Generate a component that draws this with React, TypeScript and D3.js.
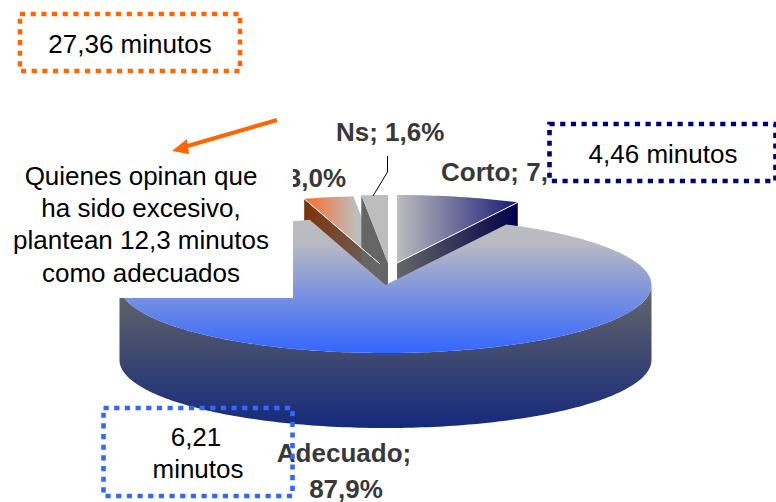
import React from "react";
import * as d3 from "d3";

const categories = ["Corto", "Adecuado", "Excesivo", "Ns"];
const shares = [7.5, 87.9, 3.0, 1.6];
const shareLabels = ["7,5%", "87,9%", "3,0%", "1,6%"];
const timeNotes = ["27,36 minutos", "4,46 minutos"];
const adequateNote = ["6,21", "minutos"];
const excessNote = ["Quienes opinan que", "ha sido excesivo,", "plantean 12,3 minutos", "como adecuados"];

const W = 776;
const H = 502;
const FONT = "'Liberation Sans', Arial, sans-serif";
const RX = 266;
const RY = 68;
const DEPTH = 75;
// Rim centre of each wedge: the large slice stays put, the others are pulled out.
const centres: Record<string, [number, number]> = {
  Corto: [397, 263],
  Adecuado: [385.5, 285],
  Excesivo: [380, 264],
  Ns: [388, 263],
};

const wedges = d3.pie<number>().sort(null).value((d) => d).startAngle(0).endAngle(2 * Math.PI)(shares);

// Projects a pie angle onto the flattened rim of the disc.
function rim(name: string, a: number, dy = 0): [number, number] {
  const [cx, cy] = centres[name];
  const sx = d3.scaleLinear().domain([-1, 1]).range([cx - RX, cx + RX]);
  const sy = d3.scaleLinear().domain([-1, 1]).range([cy - RY + dy, cy + RY + dy]);
  return [sx(Math.sin(a)), sy(-Math.cos(a))];
}

const line = d3.line<[number, number]>();

function arcPoints(name: string, a0: number, a1: number, dy = 0): [number, number][] {
  const n = Math.max(2, Math.ceil(Math.abs(a1 - a0) / 0.02));
  return d3.range(n + 1).map((i) => rim(name, a0 + ((a1 - a0) * i) / n, dy));
}

function face(name: string, a0: number, a1: number): string {
  const [cx, cy] = centres[name];
  return line([[cx, cy], ...arcPoints(name, a0, a1)])! + "Z";
}

function wall(name: string, a: number): string {
  const [cx, cy] = centres[name];
  const [x, y] = rim(name, a);
  return line([[cx, cy], [x, y], [x, y + DEPTH], [cx, cy + DEPTH]])! + "Z";
}

function frontWall(): string {
  const top = arcPoints("Adecuado", Math.PI / 2, (3 * Math.PI) / 2);
  const bottom = arcPoints("Adecuado", (3 * Math.PI) / 2, Math.PI / 2, DEPTH);
  return line([...top, ...bottom])! + "Z";
}

function HGrad({ id, x1, x2, from, to }: { id: string; x1: number; x2: number; from: string; to: string }) {
  return (
    <linearGradient id={id} gradientUnits="userSpaceOnUse" x1={x1} x2={x2} y1={0} y2={0}>
      <stop offset="0" stopColor={from} />
      <stop offset="1" stopColor={to} />
    </linearGradient>
  );
}

function VGrad({ id, y1, y2, stops }: { id: string; y1: number; y2: number; stops: [number, string][] }) {
  return (
    <linearGradient id={id} gradientUnits="userSpaceOnUse" x1={0} x2={0} y1={y1} y2={y2}>
      {stops.map(([o, c]) => (
        <stop key={o} offset={o} stopColor={c} />
      ))}
    </linearGradient>
  );
}

function DottedBox({ x, y, w, h, color, fill }: { x: number; y: number; w: number; h: number; color: string; fill: string }) {
  return (
    <rect x={x} y={y} width={w} height={h} fill={fill} stroke={color} strokeWidth={4.6} strokeDasharray="5.2 5.47" />
  );
}

export default function App() {
  const [corto, adecuado, excesivo, ns] = wedges;
  const cortoEdge = rim("Corto", corto.endAngle);
  const excesoEdge = rim("Excesivo", excesivo.startAngle);
  const label = { fontFamily: FONT, fontSize: 26, fontWeight: 700, fill: "#383838" };
  const note = { fontFamily: FONT, fontSize: 26, fill: "#000", textAnchor: "middle" as const };

  return (
    <svg width={W} height={H} style={{ position: "absolute", left: 0, top: 0, background: "#fff" }}>
      <defs>
        <VGrad id="mainTop" y1={217} y2={353} stops={[[0, "#bdbdbd"], [0.2, "#b9b9c4"], [1, "#3366ff"]]} />
        <VGrad id="mainSide" y1={285} y2={426} stops={[[0, "#666666"], [1, "#162a7c"]]} />
        <HGrad id="cortoTop" x1={397} x2={517} from="#bdbdbd" to="#1a1a78" />
        <HGrad id="cortoSide" x1={397} x2={517} from="#666666" to="#00004a" />
        <HGrad id="excTop" x1={303} x2={356} from="#ff6a26" to="#bdbdbd" />
        <HGrad id="excSide" x1={303} x2={380} from="#7d3208" to="#666666" />
      </defs>

      {/* Pulled-out wedges, walls first so their faces sit on top */}
      <path d={wall("Corto", corto.endAngle)} fill="url(#cortoSide)" />
      <path d={face("Corto", corto.startAngle, corto.endAngle)} fill="url(#cortoTop)" />
      <path d={wall("Excesivo", excesivo.startAngle)} fill="url(#excSide)" />
      <path d={face("Excesivo", excesivo.startAngle, excesivo.endAngle)} fill="url(#excTop)" />
      <path d={wall("Ns", ns.startAngle)} fill="#666666" />
      <path d={face("Ns", ns.startAngle, ns.endAngle)} fill="#bdbdbd" />
      <line x1={centres.Corto[0]} y1={centres.Corto[1]} x2={cortoEdge[0]} y2={cortoEdge[1]} stroke="#fff" strokeWidth={1} />
      <line x1={centres.Excesivo[0]} y1={centres.Excesivo[1]} x2={excesoEdge[0]} y2={excesoEdge[1]} stroke="#fff" strokeWidth={1} />

      {/* Large slice */}
      <path d={frontWall()} fill="url(#mainSide)" />
      <path d={face("Adecuado", adecuado.startAngle, adecuado.endAngle)} fill="url(#mainTop)" />

      {/* Slice labels */}
      <text x={346} y={187} textAnchor="end" {...label}>{`${categories[2]}; ${shareLabels[2]}`}</text>
      <text x={441} y={181} {...label}>{`${categories[0]}; ${shareLabels[0]}`}</text>
      <text x={336} y={141} {...label}>{`${categories[3]}; ${shareLabels[3]}`}</text>
      <polyline points="387.5,156 387.5,172 373,196" fill="none" stroke="#000" strokeWidth={1} />
      <text x={344} y={462} textAnchor="middle" {...label}>{`${categories[1]};`}</text>
      <text x={346} y={498} textAnchor="middle" {...label}>{shareLabels[1]}</text>

      {/* White callout that overlaps the pie */}
      <rect x={0} y={160} width={293} height={138} fill="#fff" />
      {excessNote.map((t, i) => (
        <text key={t} x={141} y={185 + i * 32.2} {...note}>{t}</text>
      ))}

      {/* Time boxes */}
      <DottedBox x={20} y={14} w={220} h={57} color="#ff6600" fill="#fff" />
      <text x={130} y={53} {...note}>{timeNotes[0]}</text>
      <DottedBox x={549.5} y={124} w={226} h={57} color="#000080" fill="#fff" />
      <text x={663} y={163} {...note}>{timeNotes[1]}</text>
      <DottedBox x={103.5} y={408} w={189} h={88} color="#3366ff" fill="none" />
      <text x={196} y={446} {...note}>{adequateNote[0]}</text>
      <text x={198} y={478} {...note}>{adequateNote[1]}</text>

      {/* Arrow towards the orange box */}
      <line x1={277} y1={120} x2={184} y2={147} stroke="#ff6600" strokeWidth={4} />
      <polygon points="172,151 187,139 189,154" fill="#ff6600" />
    </svg>
  );
}
